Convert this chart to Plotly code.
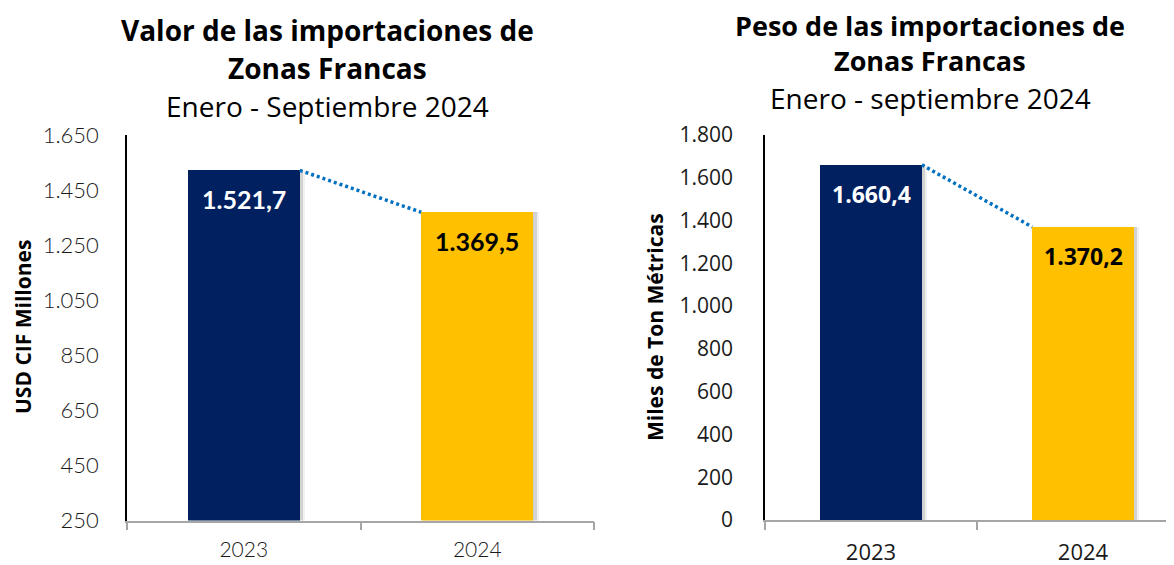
import plotly.graph_objects as go
from plotly.subplots import make_subplots

# data
years = ['2023', '2024']
valor = [1521.7, 1369.5]          # USD CIF millones
peso = [1660.4, 1370.2]           # miles de toneladas metricas
valor_labels = ['1.521,7', '1.369,5']
peso_labels = ['1.660,4', '1.370,2']
valor_ticks = [250, 450, 650, 850, 1050, 1250, 1450, 1650]
peso_ticks = [0, 200, 400, 600, 800, 1000, 1200, 1400, 1600, 1800]

NAVY = '#002060'
GOLD = '#FFC000'
DOT_BLUE = '#0070C0'
BAR_W = 0.48
PAGE_OFF = 8                 # default body margin of the html page
FW, FH = 1174 - PAGE_OFF, 565 - PAGE_OFF


def px(x, y):
    # screen pixel position -> paper coords
    return (x - PAGE_OFF) / FW, 1 - (y - PAGE_OFF) / FH


def add_panel(fig, col, values, labels, font_family, label_size):
    xref = 'x' if col == 1 else 'x2'
    yref = 'y' if col == 1 else 'y2'
    colors = [NAVY, GOLD]
    text_colors = ['white', 'black']

    # soft drop shadow behind the bars
    for shift, alpha in [(0.024, 0.06), (0.014, 0.12)]:
        fig.add_trace(go.Bar(x=years, y=values, width=BAR_W, offset=-BAR_W / 2 + shift,
                             marker=dict(color='rgba(0,0,0,%s)' % alpha, line_width=0),
                             hoverinfo='skip', showlegend=False), row=1, col=col)

    fig.add_trace(go.Bar(x=years, y=values, width=BAR_W, offset=-BAR_W / 2,
                         marker=dict(color=colors, line_width=0),
                         showlegend=False), row=1, col=col)

    # dotted connector between bar tops
    fig.add_shape(type='line', xref=xref, yref=yref,
                  x0=0 + BAR_W / 2, y0=values[0], x1=1 - BAR_W / 2, y1=values[1],
                  line=dict(color=DOT_BLUE, width=3.5, dash='3px,3px'))

    for i in range(2):
        fig.add_annotation(x=i, y=values[i], xref=xref, yref=yref,
                           text='<b>%s</b>' % labels[i], showarrow=False,
                           yanchor='middle', yshift=-29,
                           font=dict(family=font_family, size=label_size, color=text_colors[i]))


fig = make_subplots(rows=1, cols=2)
add_panel(fig, 1, valor, valor_labels, 'Lato', 25)
add_panel(fig, 2, peso, peso_labels, 'Open Sans', 23)

x_common = dict(type='category', tickson='boundaries', ticks='outside', ticklen=8,
                tickcolor='#A6A6A6', tickwidth=1.5, showline=True, linecolor='#A6A6A6',
                linewidth=1.5, showgrid=False, zeroline=False, fixedrange=True, automargin=False)
y_common = dict(showline=True, linecolor='black', linewidth=1.5, showgrid=False,
                zeroline=False, ticks='', tickformat=',d', fixedrange=True, automargin=False)

fig.update_layout(
    xaxis=dict(x_common, domain=[px(127, 0)[0], px(594, 0)[0]], range=[-0.5, 1.5],
               tickfont=dict(family='Lato', size=21, color='#1a1a1a', weight=300),
               ticklabelstandoff=10),
    yaxis=dict(y_common, domain=[px(0, 520.5)[1], px(0, 135)[1]], range=[250, 1650],
               tickvals=valor_ticks, ticklabelstandoff=22,
               tickfont=dict(family='Lato', size=22, color='#1a1a1a', weight=300)),
    xaxis2=dict(x_common, domain=[px(765, 0)[0], 1], range=[-0.5, -0.5 + 409 / 212],
                tickfont=dict(family='Open Sans', size=22, color='#1a1a1a'), ticklabelstandoff=12),
    yaxis2=dict(y_common, domain=[px(0, 520)[1], px(0, 135)[1]], range=[0, 1800],
                tickvals=peso_ticks, ticklabelstandoff=26,
                tickfont=dict(family='Open Sans', size=21, color='#1a1a1a')),
)

# titles and axis titles
texts = [
    ('<b>Valor de las importaciones de</b>', 327, 30, 28),
    ('<b>Zonas Francas</b>', 327, 68, 28),
    ('Enero - Septiembre 2024', 327, 106, 28),
    ('<b>Peso de las importaciones de</b>', 930, 26, 27),
    ('<b>Zonas Francas</b>', 930, 61, 27),
    ('Enero - septiembre 2024', 930, 98, 28),
]
for t, x, y, s in texts:
    px_x, px_y = px(x, y)
    fig.add_annotation(text=t, x=px_x, y=px_y, xref='paper', yref='paper',
                       xanchor='center', yanchor='middle', showarrow=False,
                       font=dict(family='Open Sans', size=s, color='black'))

for t, x, y in [('<b>USD CIF Millones</b>', 23, 327), ('<b>Miles de Ton Métricas</b>', 655, 327)]:
    px_x, px_y = px(x, y)
    fig.add_annotation(text=t, x=px_x, y=px_y, xref='paper', yref='paper', textangle=-90,
                       xanchor='center', yanchor='middle', showarrow=False,
                       font=dict(family='Open Sans', size=21, color='black'))

fig.update_layout(width=FW, height=FH, margin=dict(l=0, r=0, t=0, b=0),
                  barmode='overlay', bargap=0, separators=',.',
                  plot_bgcolor='white', paper_bgcolor='white', showlegend=False)

fig.write_html("out.html")
